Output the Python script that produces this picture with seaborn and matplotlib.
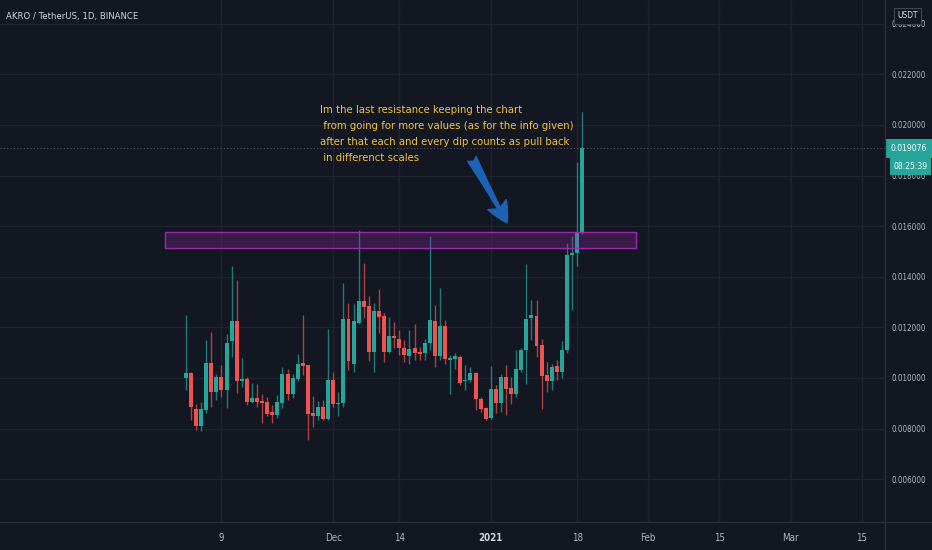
import pandas as pd
import numpy as np
import matplotlib.pyplot as plt
import matplotlib.dates as mdates
from matplotlib.patches import Rectangle
from matplotlib.lines import Line2D
from matplotlib.ticker import FormatStrFormatter
import seaborn as sns

# Velas diarias AKRO/USDT (2 nov 2020 - 19 ene 2021)
fechas = pd.date_range('2020-11-02', '2021-01-19', freq='D')
apertura = [0.01000, 0.01021, 0.00878, 0.00812, 0.00874, 0.01059, 0.00945, 0.01004, 0.00952, 0.01145,
            0.01225, 0.00988, 0.00995, 0.00906, 0.00919, 0.00910, 0.00906, 0.00867, 0.00852, 0.00900,
            0.01014, 0.00936, 0.00995, 0.01060, 0.01050, 0.00863, 0.00848, 0.00884, 0.00838, 0.00991,
            0.00897, 0.00900, 0.01235, 0.01056, 0.01219, 0.01304, 0.01284, 0.01103, 0.01266, 0.01245,
            0.01103, 0.01166, 0.01156, 0.01119, 0.01086, 0.01119, 0.01103, 0.01097, 0.01139, 0.01225,
            0.01086, 0.01205, 0.01073, 0.01077, 0.01083, 0.00988, 0.00991, 0.01021, 0.00918, 0.00881,
            0.00841, 0.00958, 0.00901, 0.01004, 0.00960, 0.00938, 0.01030, 0.01110, 0.01236, 0.01245,
            0.01130, 0.01013, 0.00988, 0.01046, 0.01024, 0.01110, 0.01487, 0.01494, 0.01578]
maximo = [0.01248, 0.01023, 0.00897, 0.00906, 0.01150, 0.01180, 0.01017, 0.01050, 0.01173, 0.01444,
          0.01386, 0.01079, 0.01004, 0.00980, 0.00977, 0.00936, 0.00926, 0.00893, 0.00932, 0.01043,
          0.01036, 0.01017, 0.01093, 0.01248, 0.01050, 0.00930, 0.00910, 0.00913, 0.01193, 0.01023,
          0.00945, 0.01375, 0.01297, 0.01291, 0.01585, 0.01453, 0.01323, 0.01295, 0.01351, 0.01256,
          0.01242, 0.01222, 0.01189, 0.01150, 0.01189, 0.01213, 0.01123, 0.01156, 0.01560, 0.01289,
          0.01355, 0.01229, 0.01090, 0.01099, 0.01090, 0.01050, 0.01044, 0.01024, 0.00925, 0.00885,
          0.01046, 0.00971, 0.01017, 0.01050, 0.01004, 0.01110, 0.01117, 0.01452, 0.01309, 0.01309,
          0.01156, 0.01064, 0.01054, 0.01070, 0.01147, 0.01534, 0.01560, 0.01855, 0.02053]
minimo = [0.00952, 0.00835, 0.00795, 0.00789, 0.00860, 0.00887, 0.00913, 0.00926, 0.00880, 0.01082,
          0.00939, 0.00965, 0.00893, 0.00900, 0.00887, 0.00822, 0.00848, 0.00822, 0.00841, 0.00880,
          0.00913, 0.00919, 0.00990, 0.01010, 0.00756, 0.00808, 0.00835, 0.00835, 0.00835, 0.00887,
          0.00848, 0.00887, 0.01030, 0.01023, 0.01212, 0.01238, 0.01069, 0.01024, 0.01176, 0.01064,
          0.01097, 0.01117, 0.01090, 0.01064, 0.01057, 0.01070, 0.01070, 0.01070, 0.01110, 0.01044,
          0.01070, 0.01057, 0.00938, 0.01037, 0.00971, 0.00951, 0.00984, 0.00872, 0.00865, 0.00832,
          0.00838, 0.00861, 0.00865, 0.00852, 0.00898, 0.00925, 0.01024, 0.00977, 0.01150, 0.01083,
          0.00878, 0.00944, 0.00951, 0.00993, 0.01000, 0.01097, 0.01269, 0.01441, 0.01571]
cierre = [0.01020, 0.00887, 0.00812, 0.00876, 0.01059, 0.00945, 0.01004, 0.00952, 0.01139, 0.01225,
          0.00987, 0.00995, 0.00906, 0.00919, 0.00906, 0.00900, 0.00858, 0.00854, 0.00906, 0.01014,
          0.00936, 0.01000, 0.01056, 0.01047, 0.00858, 0.00850, 0.00884, 0.00838, 0.00991, 0.00897,
          0.00902, 0.01232, 0.01069, 0.01225, 0.01304, 0.01280, 0.01102, 0.01266, 0.01242, 0.01103,
          0.01166, 0.01160, 0.01117, 0.01090, 0.01114, 0.01099, 0.01094, 0.01139, 0.01229, 0.01086,
          0.01205, 0.01077, 0.01079, 0.01086, 0.00981, 0.00993, 0.01021, 0.00918, 0.00878, 0.00838,
          0.00958, 0.00901, 0.01004, 0.00958, 0.00938, 0.01037, 0.01110, 0.01232, 0.01249, 0.01126,
          0.01007, 0.00988, 0.01044, 0.01024, 0.01110, 0.01487, 0.01494, 0.01573, 0.019076]

# Zona de resistencia y textos
zona_inicio, zona_fin = '2020-10-28 21:00', '2021-01-29 12:00'
zona_baja, zona_alta = 0.01514, 0.01577
precio_actual = 0.019076
flecha_desde = ('2020-12-28 07:00', 0.01866)
flecha_hasta = ('2021-01-04 05:00', 0.01613)
ticks_y = [0.006, 0.008, 0.010, 0.012, 0.014, 0.016, 0.018, 0.020, 0.022, 0.024]
ticks_x = ['2020-11-09', '2020-12-01', '2020-12-14', '2021-01-01', '2021-01-18',
           '2021-02-01', '2021-02-15', '2021-03-01', '2021-03-15']
etiquetas_x = ['9', 'Dec', '14', '2021', '18', 'Feb', '15', 'Mar', '15']
nota = ['Im the last resistance keeping the chart',
        ' from going for more values (as for the info given)',
        'after that each and every dip counts as pull back',
        ' in differenct scales']

fondo = '#131722'
rejilla = '#1f2330'
borde = '#2a2e39'
texto = '#b2b5be'
verde = '#26a69a'
rojo = '#ef5350'

sns.set_theme(style='dark', rc={'axes.facecolor': fondo, 'figure.facecolor': fondo})
plt.rcParams['font.family'] = ['DejaVu Sans']
plt.rcParams['font.stretch'] = 'condensed'

df = pd.DataFrame({'fecha': fechas, 'open': apertura, 'high': maximo, 'low': minimo, 'close': cierre})
df['color'] = np.where(df['close'] >= df['open'], verde, rojo)
df['base'] = df[['open', 'close']].min(axis=1)
df['cuerpo'] = (df['close'] - df['open']).abs().clip(lower=0.00005)

W, H = 932, 550
fig = plt.figure(figsize=(W / 100, H / 100), dpi=100)
ax = fig.add_axes([0, 28 / H, 885 / W, 522 / H])


def px(x, y):
    return x / W, 1 - y / H


# Velas
ax.vlines(df['fecha'], df['low'], df['high'], colors=df['color'], lw=1, alpha=0.7, zorder=2)
ax.bar(df['fecha'], df['cuerpo'], bottom=df['base'], width=0.78, color=df['color'], linewidth=0, zorder=3)

# Zona de resistencia
x0 = mdates.date2num(pd.Timestamp(zona_inicio))
x1 = mdates.date2num(pd.Timestamp(zona_fin))
ax.add_patch(Rectangle((x0, zona_baja), x1 - x0, zona_alta - zona_baja,
                       facecolor=(0.61, 0.15, 0.69, 0.28), edgecolor='#9c27b0', lw=1, zorder=4))

# Linea de precio actual
ax.axhline(precio_actual, color='#6b7280', lw=0.8, ls=(0, (1, 2)), alpha=0.7, zorder=1)

# Flecha
ax.annotate('', xy=(pd.Timestamp(flecha_hasta[0]), flecha_hasta[1]),
            xytext=(pd.Timestamp(flecha_desde[0]), flecha_desde[1]),
            arrowprops=dict(arrowstyle='fancy,head_length=1.5,head_width=1.5,tail_width=0.7',
                            color='#1c62b5', shrinkA=0, shrinkB=0, mutation_scale=10), zorder=5)

ax.set_xlim(pd.Timestamp('2020-09-26 10:00'), pd.Timestamp('2021-03-19 14:00'))
ax.set_ylim(0.004308, 0.02494)

ax.yaxis.tick_right()
ax.set_yticks(ticks_y)
ax.yaxis.set_major_formatter(FormatStrFormatter('%.6f'))
ax.set_xticks(pd.to_datetime(ticks_x))
ax.set_xticklabels(etiquetas_x)
ax.tick_params(axis='y', length=0, pad=5, labelsize=5.8, labelcolor=texto)
ax.tick_params(axis='x', length=0, pad=8, labelsize=7, labelcolor=texto)
for lbl in ax.get_xticklabels():
    if lbl.get_text() == '2021':
        lbl.set_color('#d1d4dc')
        lbl.set_fontweight('bold')
ax.grid(True, color=rejilla, lw=1)
ax.set_axisbelow(True)
for s in ax.spines.values():
    s.set_visible(False)

# Separadores de ejes
fig.add_artist(Line2D([0, 1], [28 / H, 28 / H], color=borde, lw=1))
fig.add_artist(Line2D([885 / W, 885 / W], [0, 1], color=borde, lw=1))

# Titulo
fig.text(*px(6, 17), 'AKRO / TetherUS, 1D, BINANCE', color='#d1d4dc', fontsize=6.8, va='center', ha='left')

# Nota
for i, linea in enumerate(nota):
    fig.text(*px(320.5, 113 + i * 16), linea, color='#f0c243', fontsize=8.15, va='baseline', ha='left')

# Etiquetas del eje de precios
fig.add_artist(Rectangle(px(894, 24), 27 / W, 16 / H, transform=fig.transFigure,
                         facecolor=fondo, edgecolor='#434651', lw=0.8))
fig.text(*px(907.5, 16), 'USDT', color='#d1d4dc', fontsize=6, ha='center', va='center')
fig.add_artist(Rectangle(px(885.5, 157.5), 46 / W, 18.5 / H, transform=fig.transFigure,
                         facecolor=verde, edgecolor='none'))
fig.text(*px(908.5, 148.5), '0.019076', color='white', fontsize=6.1, ha='center', va='center')
fig.add_artist(Rectangle(px(890, 175), 41 / W, 17.5 / H, transform=fig.transFigure,
                         facecolor=verde, edgecolor='none'))
fig.text(*px(910.5, 166.5), '08:25:39', color='white', fontsize=6.1, ha='center', va='center')

fig.savefig('out.png', dpi=100, facecolor=fondo)
